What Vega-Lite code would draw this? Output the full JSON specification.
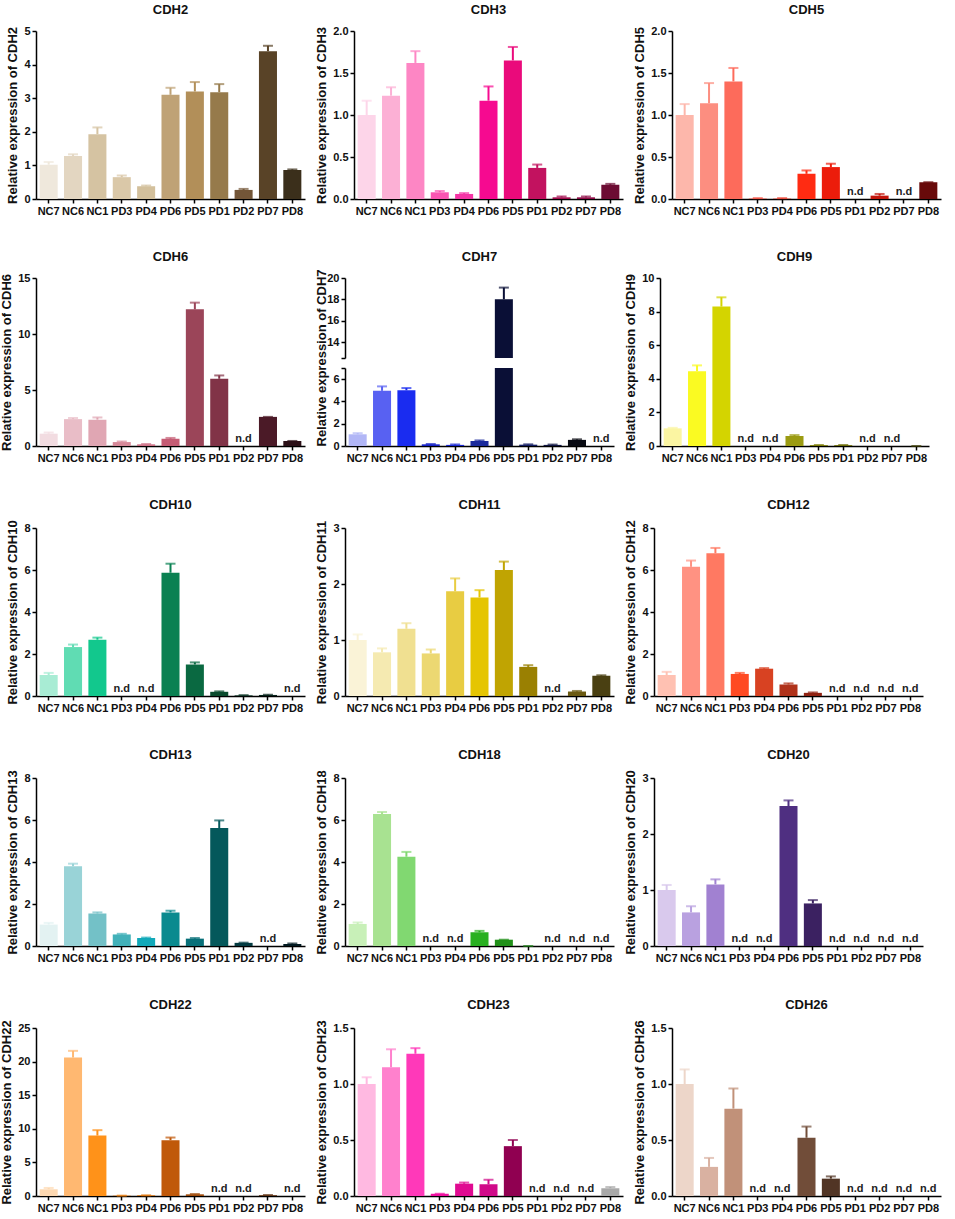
{
  "$schema": "https://vega.github.io/schema/vega-lite/v6.json",
  "padding": {"left": 0, "top": 4, "right": 4, "bottom": 2},
  "background": "white",
  "datasets": {
    "CDH2": [
      {"s": "NC7", "v": 1.02, "hi": 1.1}, {"s": "NC6", "v": 1.28, "hi": 1.33}, {"s": "NC1", "v": 1.93, "hi": 2.13},
      {"s": "PD3", "v": 0.65, "hi": 0.7}, {"s": "PD4", "v": 0.38, "hi": 0.4}, {"s": "PD6", "v": 3.1, "hi": 3.31},
      {"s": "PD5", "v": 3.2, "hi": 3.48}, {"s": "PD1", "v": 3.18, "hi": 3.42}, {"s": "PD2", "v": 0.27, "hi": 0.3},
      {"s": "PD7", "v": 4.4, "hi": 4.56}, {"s": "PD8", "v": 0.86, "hi": 0.88}
    ],
    "CDH3": [
      {"s": "NC7", "v": 1.0, "hi": 1.17}, {"s": "NC6", "v": 1.23, "hi": 1.33}, {"s": "NC1", "v": 1.62, "hi": 1.76},
      {"s": "PD3", "v": 0.08, "hi": 0.095}, {"s": "PD4", "v": 0.06, "hi": 0.07}, {"s": "PD6", "v": 1.17, "hi": 1.34},
      {"s": "PD5", "v": 1.65, "hi": 1.81}, {"s": "PD1", "v": 0.37, "hi": 0.41}, {"s": "PD2", "v": 0.02, "hi": 0.03},
      {"s": "PD7", "v": 0.02, "hi": 0.03}, {"s": "PD8", "v": 0.17, "hi": 0.18}
    ],
    "CDH5": [
      {"s": "NC7", "v": 1.0, "hi": 1.13}, {"s": "NC6", "v": 1.14, "hi": 1.38}, {"s": "NC1", "v": 1.4, "hi": 1.56},
      {"s": "PD3", "v": 0.005, "hi": 0.01}, {"s": "PD4", "v": 0.005, "hi": 0.01}, {"s": "PD6", "v": 0.3, "hi": 0.34},
      {"s": "PD5", "v": 0.38, "hi": 0.42}, {"s": "PD1", "nd": true}, {"s": "PD2", "v": 0.04, "hi": 0.06},
      {"s": "PD7", "nd": true}, {"s": "PD8", "v": 0.2, "hi": 0.2}
    ],
    "CDH6": [
      {"s": "NC7", "v": 1.1, "hi": 1.2}, {"s": "NC6", "v": 2.4, "hi": 2.5}, {"s": "NC1", "v": 2.35, "hi": 2.55},
      {"s": "PD3", "v": 0.35, "hi": 0.4}, {"s": "PD4", "v": 0.15, "hi": 0.18}, {"s": "PD6", "v": 0.65, "hi": 0.72},
      {"s": "PD5", "v": 12.2, "hi": 12.8}, {"s": "PD1", "v": 6.0, "hi": 6.3}, {"s": "PD2", "nd": true},
      {"s": "PD7", "v": 2.6, "hi": 2.6}, {"s": "PD8", "v": 0.45, "hi": 0.45}
    ],
    "CDH7": [
      {"s": "NC7", "v": 1.05, "hi": 1.15}, {"s": "NC6", "v": 4.95, "hi": 5.35}, {"s": "NC1", "v": 5.0, "hi": 5.2},
      {"s": "PD3", "v": 0.15, "hi": 0.18}, {"s": "PD4", "v": 0.1, "hi": 0.14}, {"s": "PD6", "v": 0.45, "hi": 0.5},
      {"s": "PD5", "v": 18.0, "hi": 19.1}, {"s": "PD1", "v": 0.12, "hi": 0.15}, {"s": "PD2", "v": 0.1, "hi": 0.13},
      {"s": "PD7", "v": 0.55, "hi": 0.6}, {"s": "PD8", "nd": true}
    ],
    "CDH9": [
      {"s": "NC7", "v": 1.05, "hi": 1.08}, {"s": "NC6", "v": 4.45, "hi": 4.8}, {"s": "NC1", "v": 8.3, "hi": 8.85},
      {"s": "PD3", "nd": true}, {"s": "PD4", "nd": true}, {"s": "PD6", "v": 0.6, "hi": 0.65},
      {"s": "PD5", "v": 0.05, "hi": 0.06}, {"s": "PD1", "v": 0.05, "hi": 0.06}, {"s": "PD2", "nd": true},
      {"s": "PD7", "nd": true}, {"s": "PD8", "v": 0, "hi": 0}
    ],
    "CDH10": [
      {"s": "NC7", "v": 1.0, "hi": 1.1}, {"s": "NC6", "v": 2.33, "hi": 2.45}, {"s": "NC1", "v": 2.68, "hi": 2.78},
      {"s": "PD3", "nd": true}, {"s": "PD4", "nd": true}, {"s": "PD6", "v": 5.87, "hi": 6.3},
      {"s": "PD5", "v": 1.5, "hi": 1.6}, {"s": "PD1", "v": 0.2, "hi": 0.22}, {"s": "PD2", "v": 0.03, "hi": 0.04},
      {"s": "PD7", "v": 0.05, "hi": 0.06}, {"s": "PD8", "nd": true}
    ],
    "CDH11": [
      {"s": "NC7", "v": 1.0, "hi": 1.1}, {"s": "NC6", "v": 0.78, "hi": 0.85}, {"s": "NC1", "v": 1.2, "hi": 1.3},
      {"s": "PD3", "v": 0.76, "hi": 0.83}, {"s": "PD4", "v": 1.87, "hi": 2.1}, {"s": "PD6", "v": 1.76, "hi": 1.89},
      {"s": "PD5", "v": 2.25, "hi": 2.4}, {"s": "PD1", "v": 0.52, "hi": 0.55}, {"s": "PD2", "nd": true},
      {"s": "PD7", "v": 0.08, "hi": 0.09}, {"s": "PD8", "v": 0.36, "hi": 0.37}
    ],
    "CDH12": [
      {"s": "NC7", "v": 1.0, "hi": 1.15}, {"s": "NC6", "v": 6.15, "hi": 6.45}, {"s": "NC1", "v": 6.8, "hi": 7.05},
      {"s": "PD3", "v": 1.05, "hi": 1.1}, {"s": "PD4", "v": 1.3, "hi": 1.33}, {"s": "PD6", "v": 0.55, "hi": 0.6},
      {"s": "PD5", "v": 0.15, "hi": 0.17}, {"s": "PD1", "nd": true}, {"s": "PD2", "nd": true},
      {"s": "PD7", "nd": true}, {"s": "PD8", "nd": true}
    ],
    "CDH13": [
      {"s": "NC7", "v": 1.02, "hi": 1.1}, {"s": "NC6", "v": 3.8, "hi": 3.92}, {"s": "NC1", "v": 1.55, "hi": 1.6},
      {"s": "PD3", "v": 0.55, "hi": 0.58}, {"s": "PD4", "v": 0.38, "hi": 0.4}, {"s": "PD6", "v": 1.6, "hi": 1.68},
      {"s": "PD5", "v": 0.35, "hi": 0.38}, {"s": "PD1", "v": 5.62, "hi": 5.98}, {"s": "PD2", "v": 0.15, "hi": 0.16},
      {"s": "PD7", "nd": true}, {"s": "PD8", "v": 0.1, "hi": 0.12}
    ],
    "CDH18": [
      {"s": "NC7", "v": 1.05, "hi": 1.12}, {"s": "NC6", "v": 6.28, "hi": 6.38}, {"s": "NC1", "v": 4.25, "hi": 4.48},
      {"s": "PD3", "nd": true}, {"s": "PD4", "nd": true}, {"s": "PD6", "v": 0.65, "hi": 0.72},
      {"s": "PD5", "v": 0.3, "hi": 0.3}, {"s": "PD1", "v": 0, "hi": 0}, {"s": "PD2", "nd": true},
      {"s": "PD7", "nd": true}, {"s": "PD8", "nd": true}
    ],
    "CDH20": [
      {"s": "NC7", "v": 1.0, "hi": 1.09}, {"s": "NC6", "v": 0.6, "hi": 0.71}, {"s": "NC1", "v": 1.1, "hi": 1.19},
      {"s": "PD3", "nd": true}, {"s": "PD4", "nd": true}, {"s": "PD6", "v": 2.5, "hi": 2.6},
      {"s": "PD5", "v": 0.76, "hi": 0.82}, {"s": "PD1", "nd": true}, {"s": "PD2", "nd": true},
      {"s": "PD7", "nd": true}, {"s": "PD8", "nd": true}
    ],
    "CDH22": [
      {"s": "NC7", "v": 1.0, "hi": 1.2}, {"s": "NC6", "v": 20.6, "hi": 21.6}, {"s": "NC1", "v": 9.0, "hi": 9.8},
      {"s": "PD3", "v": 0.05, "hi": 0.05}, {"s": "PD4", "v": 0.1, "hi": 0.1}, {"s": "PD6", "v": 8.3, "hi": 8.7},
      {"s": "PD5", "v": 0.25, "hi": 0.3}, {"s": "PD1", "nd": true}, {"s": "PD2", "nd": true},
      {"s": "PD7", "v": 0.12, "hi": 0.15}, {"s": "PD8", "nd": true}
    ],
    "CDH23": [
      {"s": "NC7", "v": 1.0, "hi": 1.06}, {"s": "NC6", "v": 1.15, "hi": 1.31}, {"s": "NC1", "v": 1.27, "hi": 1.32},
      {"s": "PD3", "v": 0.02, "hi": 0.02}, {"s": "PD4", "v": 0.11, "hi": 0.12}, {"s": "PD6", "v": 0.105, "hi": 0.145},
      {"s": "PD5", "v": 0.445, "hi": 0.5}, {"s": "PD1", "nd": true}, {"s": "PD2", "nd": true},
      {"s": "PD7", "nd": true}, {"s": "PD8", "v": 0.07, "hi": 0.08}
    ],
    "CDH26": [
      {"s": "NC7", "v": 1.0, "hi": 1.13}, {"s": "NC6", "v": 0.26, "hi": 0.34}, {"s": "NC1", "v": 0.78, "hi": 0.96},
      {"s": "PD3", "nd": true}, {"s": "PD4", "nd": true}, {"s": "PD6", "v": 0.52, "hi": 0.62},
      {"s": "PD5", "v": 0.155, "hi": 0.175}, {"s": "PD1", "nd": true}, {"s": "PD2", "nd": true},
      {"s": "PD7", "nd": true}, {"s": "PD8", "nd": true}
    ]
  },
  "spacing": 35,
  "resolve": {"scale": {"color": "independent"}},
  "vconcat": [
    {
      "spacing": 10,
      "resolve": {"scale": {"color": "independent"}},
      "hconcat": [
        {
          "title": "CDH2", "width": 269, "height": 168, "data": {"name": "CDH2"},
          "encoding": {
            "x": {"field": "s", "type": "nominal", "title": null, "scale": {"domain": ["NC7","NC6","NC1","PD3","PD4","PD6","PD5","PD1","PD2","PD7","PD8"], "paddingInner": 0.26, "paddingOuter": 0.15}},
            "color": {"field": "s", "type": "nominal", "legend": null, "scale": {"domain": ["NC7","NC6","NC1","PD3","PD4","PD6","PD5","PD1","PD2","PD7","PD8"], "range": ["#efe8dc","#e3d6c1","#d5c3a2","#dac8a8","#d3c09c","#bfa276","#b28f59","#967a4b","#735638","#594327","#3b2f1b"]}}
          },
          "layer": [
            {"mark": "bar", "encoding": {"y": {"field": "v", "type": "quantitative", "scale": {"domain": [0, 5], "nice": false}, "axis": {"values": [0, 1, 2, 3, 4, 5], "tickCount": 12, "format": "d"}, "title": "Relative expression of CDH2"}}},
            {"mark": {"type": "rule", "strokeWidth": 2}, "encoding": {"y": {"field": "v", "type": "quantitative", "axis": {"values": [0, 1, 2, 3, 4, 5], "tickCount": 12, "format": "d"}, "title": "Relative expression of CDH2"}, "y2": {"field": "hi"}}},
            {"mark": {"type": "tick", "thickness": 2, "size": 10}, "encoding": {"y": {"field": "hi", "type": "quantitative", "axis": {"values": [0, 1, 2, 3, 4, 5], "tickCount": 12, "format": "d"}, "title": "Relative expression of CDH2"}}},
            {"transform": [{"filter": "datum.nd"}], "mark": {"type": "text", "text": "n.d", "baseline": "bottom", "dy": -2, "fontWeight": "bold", "fontSize": 11}, "encoding": {"y": {"datum": 0}, "color": {"value": "#222"}}}
          ]
        },
        {
          "title": "CDH3", "width": 269, "height": 168, "data": {"name": "CDH3"},
          "encoding": {
            "x": {"field": "s", "type": "nominal", "title": null, "scale": {"domain": ["NC7","NC6","NC1","PD3","PD4","PD6","PD5","PD1","PD2","PD7","PD8"], "paddingInner": 0.26, "paddingOuter": 0.15}},
            "color": {"field": "s", "type": "nominal", "legend": null, "scale": {"domain": ["NC7","NC6","NC1","PD3","PD4","PD6","PD5","PD1","PD2","PD7","PD8"], "range": ["#fdd5e9","#fcb0d5","#fd86c4","#fa55b2","#f535a6","#f60a90","#ea0a7b","#c2125f","#a30d4e","#8e0b46","#6c0c33"]}}
          },
          "layer": [
            {"mark": "bar", "encoding": {"y": {"field": "v", "type": "quantitative", "scale": {"domain": [0, 2], "nice": false}, "axis": {"values": [0, 0.5, 1, 1.5, 2], "tickCount": 12, "format": ".1f"}, "title": "Relative expression of CDH3"}}},
            {"mark": {"type": "rule", "strokeWidth": 2}, "encoding": {"y": {"field": "v", "type": "quantitative", "axis": {"values": [0, 0.5, 1, 1.5, 2], "tickCount": 12, "format": ".1f"}, "title": "Relative expression of CDH3"}, "y2": {"field": "hi"}}},
            {"mark": {"type": "tick", "thickness": 2, "size": 10}, "encoding": {"y": {"field": "hi", "type": "quantitative", "axis": {"values": [0, 0.5, 1, 1.5, 2], "tickCount": 12, "format": ".1f"}, "title": "Relative expression of CDH3"}}},
            {"transform": [{"filter": "datum.nd"}], "mark": {"type": "text", "text": "n.d", "baseline": "bottom", "dy": -2, "fontWeight": "bold", "fontSize": 11}, "encoding": {"y": {"datum": 0}, "color": {"value": "#222"}}}
          ]
        },
        {
          "title": "CDH5", "width": 269, "height": 168, "data": {"name": "CDH5"},
          "encoding": {
            "x": {"field": "s", "type": "nominal", "title": null, "scale": {"domain": ["NC7","NC6","NC1","PD3","PD4","PD6","PD5","PD1","PD2","PD7","PD8"], "paddingInner": 0.26, "paddingOuter": 0.15}},
            "color": {"field": "s", "type": "nominal", "legend": null, "scale": {"domain": ["NC7","NC6","NC1","PD3","PD4","PD6","PD5","PD1","PD2","PD7","PD8"], "range": ["#fdb7ab","#fc8e80","#fd6b5b","#f94a3a","#f03a2a","#ff2b12","#ec1c0b","#d01a10","#c4160c","#a01208","#680a0a"]}}
          },
          "layer": [
            {"mark": "bar", "encoding": {"y": {"field": "v", "type": "quantitative", "scale": {"domain": [0, 2], "nice": false}, "axis": {"values": [0, 0.5, 1, 1.5, 2], "tickCount": 12, "format": ".1f"}, "title": "Relative expression of CDH5"}}},
            {"mark": {"type": "rule", "strokeWidth": 2}, "encoding": {"y": {"field": "v", "type": "quantitative", "axis": {"values": [0, 0.5, 1, 1.5, 2], "tickCount": 12, "format": ".1f"}, "title": "Relative expression of CDH5"}, "y2": {"field": "hi"}}},
            {"mark": {"type": "tick", "thickness": 2, "size": 10}, "encoding": {"y": {"field": "hi", "type": "quantitative", "axis": {"values": [0, 0.5, 1, 1.5, 2], "tickCount": 12, "format": ".1f"}, "title": "Relative expression of CDH5"}}},
            {"transform": [{"filter": "datum.nd"}], "mark": {"type": "text", "text": "n.d", "baseline": "bottom", "dy": -2, "fontWeight": "bold", "fontSize": 11}, "encoding": {"y": {"datum": 0}, "color": {"value": "#222"}}}
          ]
        }
      ]
    },
    {
      "spacing": 10,
      "resolve": {"scale": {"color": "independent"}},
      "hconcat": [
        {
          "title": "CDH6", "width": 269, "height": 168, "data": {"name": "CDH6"},
          "encoding": {
            "x": {"field": "s", "type": "nominal", "title": null, "scale": {"domain": ["NC7","NC6","NC1","PD3","PD4","PD6","PD5","PD1","PD2","PD7","PD8"], "paddingInner": 0.26, "paddingOuter": 0.15}},
            "color": {"field": "s", "type": "nominal", "legend": null, "scale": {"domain": ["NC7","NC6","NC1","PD3","PD4","PD6","PD5","PD1","PD2","PD7","PD8"], "range": ["#f2dce1","#e9bdc7","#e0a6b3","#d68898","#cf7287","#c55c74","#9b4559","#813347","#6a2838","#4b1a27","#2b1017"]}}
          },
          "layer": [
            {"mark": "bar", "encoding": {"y": {"field": "v", "type": "quantitative", "scale": {"domain": [0, 15], "nice": false}, "axis": {"values": [0, 5, 10, 15], "tickCount": 12, "format": "d"}, "title": "Relative expression of CDH6"}}},
            {"mark": {"type": "rule", "strokeWidth": 2}, "encoding": {"y": {"field": "v", "type": "quantitative", "axis": {"values": [0, 5, 10, 15], "tickCount": 12, "format": "d"}, "title": "Relative expression of CDH6"}, "y2": {"field": "hi"}}},
            {"mark": {"type": "tick", "thickness": 2, "size": 10}, "encoding": {"y": {"field": "hi", "type": "quantitative", "axis": {"values": [0, 5, 10, 15], "tickCount": 12, "format": "d"}, "title": "Relative expression of CDH6"}}},
            {"transform": [{"filter": "datum.nd"}], "mark": {"type": "text", "text": "n.d", "baseline": "bottom", "dy": -2, "fontWeight": "bold", "fontSize": 11}, "encoding": {"y": {"datum": 0}, "color": {"value": "#222"}}}
          ]
        },
        {
          "bounds": "flush",
          "spacing": 10,
          "vconcat": [
            {
              "title": "CDH7", "width": 269, "height": 80, "data": {"name": "CDH7"},
              "encoding": {
                "x": {"field": "s", "type": "nominal", "axis": null, "scale": {"domain": ["NC7","NC6","NC1","PD3","PD4","PD6","PD5","PD1","PD2","PD7","PD8"], "paddingInner": 0.26, "paddingOuter": 0.15}},
                "color": {"field": "s", "type": "nominal", "legend": null, "scale": {"domain": ["NC7","NC6","NC1","PD3","PD4","PD6","PD5","PD1","PD2","PD7","PD8"], "range": ["#b1b6f6","#5861f2","#1a2cf0","#1622c8","#1a28d2","#1a2a9c","#0a0f36","#111b62","#101542","#080a12","#000000"]}}
              },
              "layer": [
                {"mark": {"type": "bar", "clip": true}, "encoding": {"y": {"field": "v", "type": "quantitative", "scale": {"domain": [12.5, 20], "nice": false, "zero": false}, "axis": {"values": [12.5, 14, 16, 18, 20], "tickCount": 12, "format": "d", "labelExpr": "datum.value < 13 ? '' : datum.label"}, "title": null}}},
                {"mark": {"type": "rule", "strokeWidth": 2, "clip": true}, "encoding": {"y": {"field": "v", "type": "quantitative", "axis": {"values": [12.5, 14, 16, 18, 20], "tickCount": 12, "format": "d", "labelExpr": "datum.value < 13 ? '' : datum.label"}, "title": null}, "y2": {"field": "hi"}}},
                {"mark": {"type": "tick", "thickness": 2, "size": 10, "clip": true}, "encoding": {"y": {"field": "hi", "type": "quantitative", "axis": {"values": [12.5, 14, 16, 18, 20], "tickCount": 12, "format": "d", "labelExpr": "datum.value < 13 ? '' : datum.label"}, "title": null}}}
              ]
            },
            {
              "width": 269, "height": 78, "data": {"name": "CDH7"},
              "encoding": {
                "x": {"field": "s", "type": "nominal", "title": null, "scale": {"domain": ["NC7","NC6","NC1","PD3","PD4","PD6","PD5","PD1","PD2","PD7","PD8"], "paddingInner": 0.26, "paddingOuter": 0.15}},
                "color": {"field": "s", "type": "nominal", "legend": null, "scale": {"domain": ["NC7","NC6","NC1","PD3","PD4","PD6","PD5","PD1","PD2","PD7","PD8"], "range": ["#b1b6f6","#5861f2","#1a2cf0","#1622c8","#1a28d2","#1a2a9c","#0a0f36","#111b62","#101542","#080a12","#000000"]}}
              },
              "layer": [
                {"mark": {"type": "bar", "clip": true}, "encoding": {"y": {"field": "v", "type": "quantitative", "scale": {"domain": [0, 7], "nice": false}, "axis": {"values": [0, 2, 4, 6, 7], "tickCount": 12, "format": "d", "labelExpr": "datum.value > 6.5 ? '' : datum.label", "titleAnchor": "start"}, "title": "Relative expression of CDH7"}}},
                {"mark": {"type": "rule", "strokeWidth": 2, "clip": true}, "encoding": {"y": {"field": "v", "type": "quantitative", "axis": {"values": [0, 2, 4, 6, 7], "tickCount": 12, "format": "d", "labelExpr": "datum.value > 6.5 ? '' : datum.label", "titleAnchor": "start"}, "title": "Relative expression of CDH7"}, "y2": {"field": "hi"}}},
                {"mark": {"type": "tick", "thickness": 2, "size": 10, "clip": true}, "encoding": {"y": {"field": "hi", "type": "quantitative", "axis": {"values": [0, 2, 4, 6, 7], "tickCount": 12, "format": "d", "labelExpr": "datum.value > 6.5 ? '' : datum.label", "titleAnchor": "start"}, "title": "Relative expression of CDH7"}}},
                {"transform": [{"filter": "datum.nd"}], "mark": {"type": "text", "text": "n.d", "baseline": "bottom", "dy": -2, "fontWeight": "bold", "fontSize": 11}, "encoding": {"y": {"datum": 0}, "color": {"value": "#222"}}}
              ]
            }
          ]
        },
        {
          "title": "CDH9", "width": 269, "height": 168, "data": {"name": "CDH9"},
          "encoding": {
            "x": {"field": "s", "type": "nominal", "title": null, "scale": {"domain": ["NC7","NC6","NC1","PD3","PD4","PD6","PD5","PD1","PD2","PD7","PD8"], "paddingInner": 0.26, "paddingOuter": 0.15}},
            "color": {"field": "s", "type": "nominal", "legend": null, "scale": {"domain": ["NC7","NC6","NC1","PD3","PD4","PD6","PD5","PD1","PD2","PD7","PD8"], "range": ["#fbf5a2","#fafa22","#d4d400","#c8c800","#b8b800","#9b9b12","#7a7a00","#6a6a00","#5a5a00","#4a4a00","#3a3a00"]}}
          },
          "layer": [
            {"mark": "bar", "encoding": {"y": {"field": "v", "type": "quantitative", "scale": {"domain": [0, 10], "nice": false}, "axis": {"values": [0, 2, 4, 6, 8, 10], "tickCount": 12, "format": "d"}, "title": "Relative expression of CDH9"}}},
            {"mark": {"type": "rule", "strokeWidth": 2}, "encoding": {"y": {"field": "v", "type": "quantitative", "axis": {"values": [0, 2, 4, 6, 8, 10], "tickCount": 12, "format": "d"}, "title": "Relative expression of CDH9"}, "y2": {"field": "hi"}}},
            {"mark": {"type": "tick", "thickness": 2, "size": 10}, "encoding": {"y": {"field": "hi", "type": "quantitative", "axis": {"values": [0, 2, 4, 6, 8, 10], "tickCount": 12, "format": "d"}, "title": "Relative expression of CDH9"}}},
            {"transform": [{"filter": "datum.nd"}], "mark": {"type": "text", "text": "n.d", "baseline": "bottom", "dy": -2, "fontWeight": "bold", "fontSize": 11}, "encoding": {"y": {"datum": 0}, "color": {"value": "#222"}}}
          ]
        }
      ]
    },
    {
      "spacing": 10,
      "resolve": {"scale": {"color": "independent"}},
      "hconcat": [
        {
          "title": "CDH10", "width": 269, "height": 168, "data": {"name": "CDH10"},
          "encoding": {
            "x": {"field": "s", "type": "nominal", "title": null, "scale": {"domain": ["NC7","NC6","NC1","PD3","PD4","PD6","PD5","PD1","PD2","PD7","PD8"], "paddingInner": 0.26, "paddingOuter": 0.15}},
            "color": {"field": "s", "type": "nominal", "legend": null, "scale": {"domain": ["NC7","NC6","NC1","PD3","PD4","PD6","PD5","PD1","PD2","PD7","PD8"], "range": ["#a8ecd4","#60dcb3","#12c88d","#0eb07a","#0c9864","#0a8152","#0a6941","#0a4b2d","#073221","#052219","#031510"]}}
          },
          "layer": [
            {"mark": "bar", "encoding": {"y": {"field": "v", "type": "quantitative", "scale": {"domain": [0, 8], "nice": false}, "axis": {"values": [0, 2, 4, 6, 8], "tickCount": 12, "format": "d"}, "title": "Relative expression of CDH10"}}},
            {"mark": {"type": "rule", "strokeWidth": 2}, "encoding": {"y": {"field": "v", "type": "quantitative", "axis": {"values": [0, 2, 4, 6, 8], "tickCount": 12, "format": "d"}, "title": "Relative expression of CDH10"}, "y2": {"field": "hi"}}},
            {"mark": {"type": "tick", "thickness": 2, "size": 10}, "encoding": {"y": {"field": "hi", "type": "quantitative", "axis": {"values": [0, 2, 4, 6, 8], "tickCount": 12, "format": "d"}, "title": "Relative expression of CDH10"}}},
            {"transform": [{"filter": "datum.nd"}], "mark": {"type": "text", "text": "n.d", "baseline": "bottom", "dy": -2, "fontWeight": "bold", "fontSize": 11}, "encoding": {"y": {"datum": 0}, "color": {"value": "#222"}}}
          ]
        },
        {
          "title": "CDH11", "width": 269, "height": 168, "data": {"name": "CDH11"},
          "encoding": {
            "x": {"field": "s", "type": "nominal", "title": null, "scale": {"domain": ["NC7","NC6","NC1","PD3","PD4","PD6","PD5","PD1","PD2","PD7","PD8"], "paddingInner": 0.26, "paddingOuter": 0.15}},
            "color": {"field": "s", "type": "nominal", "legend": null, "scale": {"domain": ["NC7","NC6","NC1","PD3","PD4","PD6","PD5","PD1","PD2","PD7","PD8"], "range": ["#faf3d7","#f5eab1","#f0e091","#ecd872","#e8cc42","#e5c502","#c0a402","#9a8002","#7b6602","#6b5a12","#4a4012"]}}
          },
          "layer": [
            {"mark": "bar", "encoding": {"y": {"field": "v", "type": "quantitative", "scale": {"domain": [0, 3], "nice": false}, "axis": {"values": [0, 1, 2, 3], "tickCount": 12, "format": "d"}, "title": "Relative expression of CDH11"}}},
            {"mark": {"type": "rule", "strokeWidth": 2}, "encoding": {"y": {"field": "v", "type": "quantitative", "axis": {"values": [0, 1, 2, 3], "tickCount": 12, "format": "d"}, "title": "Relative expression of CDH11"}, "y2": {"field": "hi"}}},
            {"mark": {"type": "tick", "thickness": 2, "size": 10}, "encoding": {"y": {"field": "hi", "type": "quantitative", "axis": {"values": [0, 1, 2, 3], "tickCount": 12, "format": "d"}, "title": "Relative expression of CDH11"}}},
            {"transform": [{"filter": "datum.nd"}], "mark": {"type": "text", "text": "n.d", "baseline": "bottom", "dy": -2, "fontWeight": "bold", "fontSize": 11}, "encoding": {"y": {"datum": 0}, "color": {"value": "#222"}}}
          ]
        },
        {
          "title": "CDH12", "width": 269, "height": 168, "data": {"name": "CDH12"},
          "encoding": {
            "x": {"field": "s", "type": "nominal", "title": null, "scale": {"domain": ["NC7","NC6","NC1","PD3","PD4","PD6","PD5","PD1","PD2","PD7","PD8"], "paddingInner": 0.26, "paddingOuter": 0.15}},
            "color": {"field": "s", "type": "nominal", "legend": null, "scale": {"domain": ["NC7","NC6","NC1","PD3","PD4","PD6","PD5","PD1","PD2","PD7","PD8"], "range": ["#ffc1b2","#ff9282","#ff7962","#ff4a22","#d84222","#b0321a","#902212","#801a0e","#70140a","#601008","#500c06"]}}
          },
          "layer": [
            {"mark": "bar", "encoding": {"y": {"field": "v", "type": "quantitative", "scale": {"domain": [0, 8], "nice": false}, "axis": {"values": [0, 2, 4, 6, 8], "tickCount": 12, "format": "d"}, "title": "Relative expression of CDH12"}}},
            {"mark": {"type": "rule", "strokeWidth": 2}, "encoding": {"y": {"field": "v", "type": "quantitative", "axis": {"values": [0, 2, 4, 6, 8], "tickCount": 12, "format": "d"}, "title": "Relative expression of CDH12"}, "y2": {"field": "hi"}}},
            {"mark": {"type": "tick", "thickness": 2, "size": 10}, "encoding": {"y": {"field": "hi", "type": "quantitative", "axis": {"values": [0, 2, 4, 6, 8], "tickCount": 12, "format": "d"}, "title": "Relative expression of CDH12"}}},
            {"transform": [{"filter": "datum.nd"}], "mark": {"type": "text", "text": "n.d", "baseline": "bottom", "dy": -2, "fontWeight": "bold", "fontSize": 11}, "encoding": {"y": {"datum": 0}, "color": {"value": "#222"}}}
          ]
        }
      ]
    },
    {
      "spacing": 10,
      "resolve": {"scale": {"color": "independent"}},
      "hconcat": [
        {
          "title": "CDH13", "width": 269, "height": 168, "data": {"name": "CDH13"},
          "encoding": {
            "x": {"field": "s", "type": "nominal", "title": null, "scale": {"domain": ["NC7","NC6","NC1","PD3","PD4","PD6","PD5","PD1","PD2","PD7","PD8"], "paddingInner": 0.26, "paddingOuter": 0.15}},
            "color": {"field": "s", "type": "nominal", "legend": null, "scale": {"domain": ["NC7","NC6","NC1","PD3","PD4","PD6","PD5","PD1","PD2","PD7","PD8"], "range": ["#e3f2f2","#99d3d7","#73c1c7","#42b1b9","#12a9b9","#0a8a8f","#087079","#04585b","#033a41","#022a31","#021a21"]}}
          },
          "layer": [
            {"mark": "bar", "encoding": {"y": {"field": "v", "type": "quantitative", "scale": {"domain": [0, 8], "nice": false}, "axis": {"values": [0, 2, 4, 6, 8], "tickCount": 12, "format": "d"}, "title": "Relative expression of CDH13"}}},
            {"mark": {"type": "rule", "strokeWidth": 2}, "encoding": {"y": {"field": "v", "type": "quantitative", "axis": {"values": [0, 2, 4, 6, 8], "tickCount": 12, "format": "d"}, "title": "Relative expression of CDH13"}, "y2": {"field": "hi"}}},
            {"mark": {"type": "tick", "thickness": 2, "size": 10}, "encoding": {"y": {"field": "hi", "type": "quantitative", "axis": {"values": [0, 2, 4, 6, 8], "tickCount": 12, "format": "d"}, "title": "Relative expression of CDH13"}}},
            {"transform": [{"filter": "datum.nd"}], "mark": {"type": "text", "text": "n.d", "baseline": "bottom", "dy": -2, "fontWeight": "bold", "fontSize": 11}, "encoding": {"y": {"datum": 0}, "color": {"value": "#222"}}}
          ]
        },
        {
          "title": "CDH18", "width": 269, "height": 168, "data": {"name": "CDH18"},
          "encoding": {
            "x": {"field": "s", "type": "nominal", "title": null, "scale": {"domain": ["NC7","NC6","NC1","PD3","PD4","PD6","PD5","PD1","PD2","PD7","PD8"], "paddingInner": 0.26, "paddingOuter": 0.15}},
            "color": {"field": "s", "type": "nominal", "legend": null, "scale": {"domain": ["NC7","NC6","NC1","PD3","PD4","PD6","PD5","PD1","PD2","PD7","PD8"], "range": ["#c8f0b8","#a8e291","#81d871","#60c850","#48bc38","#29b021","#219019","#1a7a14","#146410","#0e500c","#0a3c08"]}}
          },
          "layer": [
            {"mark": "bar", "encoding": {"y": {"field": "v", "type": "quantitative", "scale": {"domain": [0, 8], "nice": false}, "axis": {"values": [0, 2, 4, 6, 8], "tickCount": 12, "format": "d"}, "title": "Relative expression of CDH18"}}},
            {"mark": {"type": "rule", "strokeWidth": 2}, "encoding": {"y": {"field": "v", "type": "quantitative", "axis": {"values": [0, 2, 4, 6, 8], "tickCount": 12, "format": "d"}, "title": "Relative expression of CDH18"}, "y2": {"field": "hi"}}},
            {"mark": {"type": "tick", "thickness": 2, "size": 10}, "encoding": {"y": {"field": "hi", "type": "quantitative", "axis": {"values": [0, 2, 4, 6, 8], "tickCount": 12, "format": "d"}, "title": "Relative expression of CDH18"}}},
            {"transform": [{"filter": "datum.nd"}], "mark": {"type": "text", "text": "n.d", "baseline": "bottom", "dy": -2, "fontWeight": "bold", "fontSize": 11}, "encoding": {"y": {"datum": 0}, "color": {"value": "#222"}}}
          ]
        },
        {
          "title": "CDH20", "width": 269, "height": 168, "data": {"name": "CDH20"},
          "encoding": {
            "x": {"field": "s", "type": "nominal", "title": null, "scale": {"domain": ["NC7","NC6","NC1","PD3","PD4","PD6","PD5","PD1","PD2","PD7","PD8"], "paddingInner": 0.26, "paddingOuter": 0.15}},
            "color": {"field": "s", "type": "nominal", "legend": null, "scale": {"domain": ["NC7","NC6","NC1","PD3","PD4","PD6","PD5","PD1","PD2","PD7","PD8"], "range": ["#d9c9ed","#b9a1e0","#a181d1","#8a66c2","#7650b0","#4f2f81","#3b2161","#301a52","#281544","#201036","#180c28"]}}
          },
          "layer": [
            {"mark": "bar", "encoding": {"y": {"field": "v", "type": "quantitative", "scale": {"domain": [0, 3], "nice": false}, "axis": {"values": [0, 1, 2, 3], "tickCount": 12, "format": "d"}, "title": "Relative expression of CDH20"}}},
            {"mark": {"type": "rule", "strokeWidth": 2}, "encoding": {"y": {"field": "v", "type": "quantitative", "axis": {"values": [0, 1, 2, 3], "tickCount": 12, "format": "d"}, "title": "Relative expression of CDH20"}, "y2": {"field": "hi"}}},
            {"mark": {"type": "tick", "thickness": 2, "size": 10}, "encoding": {"y": {"field": "hi", "type": "quantitative", "axis": {"values": [0, 1, 2, 3], "tickCount": 12, "format": "d"}, "title": "Relative expression of CDH20"}}},
            {"transform": [{"filter": "datum.nd"}], "mark": {"type": "text", "text": "n.d", "baseline": "bottom", "dy": -2, "fontWeight": "bold", "fontSize": 11}, "encoding": {"y": {"datum": 0}, "color": {"value": "#222"}}}
          ]
        }
      ]
    },
    {
      "spacing": 10,
      "resolve": {"scale": {"color": "independent"}},
      "hconcat": [
        {
          "title": "CDH22", "width": 269, "height": 168, "data": {"name": "CDH22"},
          "encoding": {
            "x": {"field": "s", "type": "nominal", "title": null, "scale": {"domain": ["NC7","NC6","NC1","PD3","PD4","PD6","PD5","PD1","PD2","PD7","PD8"], "paddingInner": 0.26, "paddingOuter": 0.15}},
            "color": {"field": "s", "type": "nominal", "legend": null, "scale": {"domain": ["NC7","NC6","NC1","PD3","PD4","PD6","PD5","PD1","PD2","PD7","PD8"], "range": ["#fdd8b1","#ffb871","#ff9219","#f07a02","#e07002","#c0590a","#a04b0a","#8a400c","#74360e","#603010","#4a2610"]}}
          },
          "layer": [
            {"mark": "bar", "encoding": {"y": {"field": "v", "type": "quantitative", "scale": {"domain": [0, 25], "nice": false}, "axis": {"values": [0, 5, 10, 15, 20, 25], "tickCount": 12, "format": "d"}, "title": "Relative expression of CDH22"}}},
            {"mark": {"type": "rule", "strokeWidth": 2}, "encoding": {"y": {"field": "v", "type": "quantitative", "axis": {"values": [0, 5, 10, 15, 20, 25], "tickCount": 12, "format": "d"}, "title": "Relative expression of CDH22"}, "y2": {"field": "hi"}}},
            {"mark": {"type": "tick", "thickness": 2, "size": 10}, "encoding": {"y": {"field": "hi", "type": "quantitative", "axis": {"values": [0, 5, 10, 15, 20, 25], "tickCount": 12, "format": "d"}, "title": "Relative expression of CDH22"}}},
            {"transform": [{"filter": "datum.nd"}], "mark": {"type": "text", "text": "n.d", "baseline": "bottom", "dy": -2, "fontWeight": "bold", "fontSize": 11}, "encoding": {"y": {"datum": 0}, "color": {"value": "#222"}}}
          ]
        },
        {
          "title": "CDH23", "width": 269, "height": 168, "data": {"name": "CDH23"},
          "encoding": {
            "x": {"field": "s", "type": "nominal", "title": null, "scale": {"domain": ["NC7","NC6","NC1","PD3","PD4","PD6","PD5","PD1","PD2","PD7","PD8"], "paddingInner": 0.26, "paddingOuter": 0.15}},
            "color": {"field": "s", "type": "nominal", "legend": null, "scale": {"domain": ["NC7","NC6","NC1","PD3","PD4","PD6","PD5","PD1","PD2","PD7","PD8"], "range": ["#ffb9e1","#ff81cd","#ff39b9","#f010a1","#e00a91","#d00a89","#900051","#800048","#700040","#600038","#a8a8a8"]}}
          },
          "layer": [
            {"mark": "bar", "encoding": {"y": {"field": "v", "type": "quantitative", "scale": {"domain": [0, 1.5], "nice": false}, "axis": {"values": [0, 0.5, 1, 1.5], "tickCount": 12, "format": ".1f"}, "title": "Relative expression of CDH23"}}},
            {"mark": {"type": "rule", "strokeWidth": 2}, "encoding": {"y": {"field": "v", "type": "quantitative", "axis": {"values": [0, 0.5, 1, 1.5], "tickCount": 12, "format": ".1f"}, "title": "Relative expression of CDH23"}, "y2": {"field": "hi"}}},
            {"mark": {"type": "tick", "thickness": 2, "size": 10}, "encoding": {"y": {"field": "hi", "type": "quantitative", "axis": {"values": [0, 0.5, 1, 1.5], "tickCount": 12, "format": ".1f"}, "title": "Relative expression of CDH23"}}},
            {"transform": [{"filter": "datum.nd"}], "mark": {"type": "text", "text": "n.d", "baseline": "bottom", "dy": -2, "fontWeight": "bold", "fontSize": 11}, "encoding": {"y": {"datum": 0}, "color": {"value": "#222"}}}
          ]
        },
        {
          "title": "CDH26", "width": 269, "height": 168, "data": {"name": "CDH26"},
          "encoding": {
            "x": {"field": "s", "type": "nominal", "title": null, "scale": {"domain": ["NC7","NC6","NC1","PD3","PD4","PD6","PD5","PD1","PD2","PD7","PD8"], "paddingInner": 0.26, "paddingOuter": 0.15}},
            "color": {"field": "s", "type": "nominal", "legend": null, "scale": {"domain": ["NC7","NC6","NC1","PD3","PD4","PD6","PD5","PD1","PD2","PD7","PD8"], "range": ["#edd6c9","#d9b1a1","#c19179","#a97a62","#8c614b","#714d39","#513525","#44291c","#382016","#2c1910","#22130c"]}}
          },
          "layer": [
            {"mark": "bar", "encoding": {"y": {"field": "v", "type": "quantitative", "scale": {"domain": [0, 1.5], "nice": false}, "axis": {"values": [0, 0.5, 1, 1.5], "tickCount": 12, "format": ".1f"}, "title": "Relative expression of CDH26"}}},
            {"mark": {"type": "rule", "strokeWidth": 2}, "encoding": {"y": {"field": "v", "type": "quantitative", "axis": {"values": [0, 0.5, 1, 1.5], "tickCount": 12, "format": ".1f"}, "title": "Relative expression of CDH26"}, "y2": {"field": "hi"}}},
            {"mark": {"type": "tick", "thickness": 2, "size": 10}, "encoding": {"y": {"field": "hi", "type": "quantitative", "axis": {"values": [0, 0.5, 1, 1.5], "tickCount": 12, "format": ".1f"}, "title": "Relative expression of CDH26"}}},
            {"transform": [{"filter": "datum.nd"}], "mark": {"type": "text", "text": "n.d", "baseline": "bottom", "dy": -2, "fontWeight": "bold", "fontSize": 11}, "encoding": {"y": {"datum": 0}, "color": {"value": "#222"}}}
          ]
        }
      ]
    }
  ],
  "config": {
    "font": "Liberation Sans",
    "view": {"stroke": null},
    "title": {"fontSize": 13, "fontWeight": "bold", "color": "#111", "offset": 8, "anchor": "middle"},
    "axis": {
      "grid": false,
      "labelOverlap": false,
      "domainColor": "#000",
      "domainWidth": 1.5,
      "tickColor": "#000",
      "tickWidth": 1.5,
      "tickSize": 4,
      "labelFont": "Liberation Sans",
      "labelFontWeight": "bold",
      "labelFontSize": 11,
      "labelColor": "#111",
      "labelPadding": 2,
      "titleFont": "Liberation Sans",
      "titleFontWeight": "bold",
      "titleFontSize": 13,
      "titleColor": "#111",
      "titlePadding": 4
    },
    "axisX": {"labelAngle": 0}
  }
}
